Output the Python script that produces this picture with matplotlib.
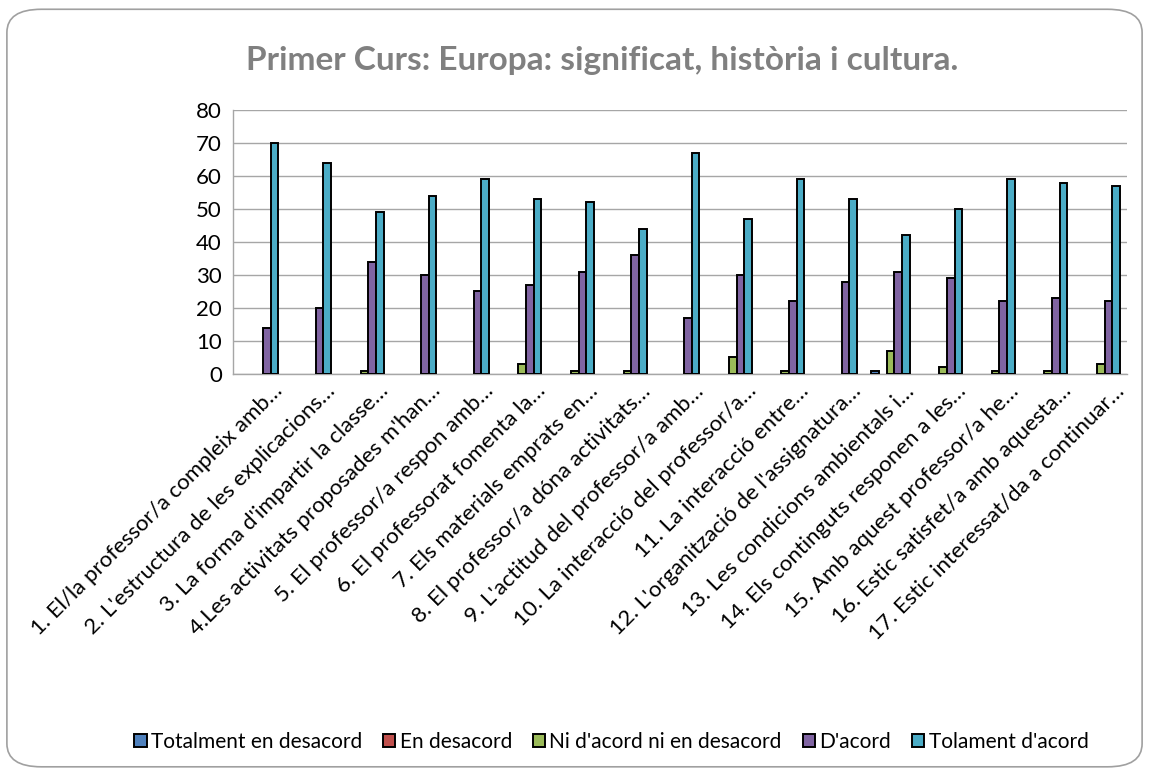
import numpy as np
import matplotlib
matplotlib.use("Agg")
import matplotlib.pyplot as plt
from matplotlib.patches import FancyBboxPatch

plt.rcParams['font.family'] = ['Lato', 'DejaVu Sans']

# Data
labels = [
    "1. El/la professor/a compleix amb…",
    "2. L'estructura de les explicacions…",
    "3. La forma d'impartir la classe…",
    "4.Les activitats proposades m'han…",
    "5. El professor/a respon amb…",
    "6. El professorat fomenta la…",
    "7. Els materials emprats en…",
    "8. El professor/a dóna activitats…",
    "9. L'actitud del professor/a amb…",
    "10. La interacció del professor/a…",
    "11. La interacció entre…",
    "12. L'organització de l'assignatura…",
    "13. Les condicions ambientals i…",
    "14. Els continguts responen a les…",
    "15. Amb aquest professor/a he…",
    "16. Estic satisfet/a amb aquesta…",
    "17. Estic interessat/da a continuar…",
]
series_names = ["Totalment en desacord", "En desacord",
                "Ni d'acord ni en desacord", "D'acord", "Tolament d'acord"]
totalment_desacord = [0, 0, 0, 0, 0, 0, 0, 0, 0, 0, 0, 0, 1, 0, 0, 0, 0]
en_desacord = [0] * 17
ni_acord = [0, 0, 1, 0, 0, 3, 1, 1, 0, 5, 1, 0, 7, 2, 1, 1, 3]
acord = [14, 20, 34, 30, 25, 27, 31, 36, 17, 30, 22, 28, 31, 29, 22, 23, 22]
tolament_acord = [70, 64, 49, 54, 59, 53, 52, 44, 67, 47, 59, 53, 42, 50, 59, 58, 57]

colors = ['#4F81BD', '#C0504D', '#9BBB59', '#8064A2', '#4BACC6']
all_series = [totalment_desacord, en_desacord, ni_acord, acord, tolament_acord]

fig = plt.figure(figsize=(11.49, 7.73), dpi=100)

# rounded border around the chart
border = FancyBboxPatch((0.006, 0.008), 0.988, 0.98,
                        boxstyle="round,pad=0,rounding_size=0.03",
                        transform=fig.transFigure, facecolor='white',
                        edgecolor='#A0A0A0', linewidth=1.2, zorder=-1)
fig.patches.append(border)

ax = fig.add_axes([0.2028, 0.5162, 0.7782, 0.3415])
x = np.arange(len(labels))
width = 0.145
for i, (vals, name, c) in enumerate(zip(all_series, series_names, colors)):
    # zero values leave no visible bar in the original
    heights = np.where(np.array(vals) > 0, vals, np.nan)
    ax.bar(x + (i - 2) * width, heights, width, color=c, edgecolor='black',
           linewidth=1.4, label=name, zorder=3)

ax.set_xlim(-0.5, len(labels) - 0.5)
ax.set_ylim(0, 80)
ax.set_yticks(range(0, 81, 10))
ax.tick_params(axis='y', length=0, labelsize=16, pad=8)
ax.tick_params(axis='x', length=0, pad=5)
ax.grid(axis='y', color='#A6A6A6', linewidth=1, zorder=0)
for s in ['top', 'right']:
    ax.spines[s].set_visible(False)
ax.spines['left'].set_color('#A6A6A6')
ax.spines['bottom'].set_color('#A6A6A6')
ax.spines['left'].set_linewidth(1)
ax.spines['bottom'].set_linewidth(1)

ax.set_xticks(x + 0.25)
ax.set_xticklabels(labels, rotation=45, ha='right', rotation_mode='anchor',
                   fontsize=16)

fig.text(0.524, 0.922, "Primer Curs: Europa: significat, història i cultura.",
         ha='center', va='center', fontsize=24, fontweight='bold',
         color='#808080')

handles, lbls = ax.get_legend_handles_labels()
fig.legend(handles, lbls, loc='center', bbox_to_anchor=(0.532, 0.04),
           ncol=5, frameon=False, fontsize=15, handlelength=0.6,
           handleheight=0.6, handletextpad=0.2, columnspacing=1.0)

fig.savefig("out.png", dpi=100)
